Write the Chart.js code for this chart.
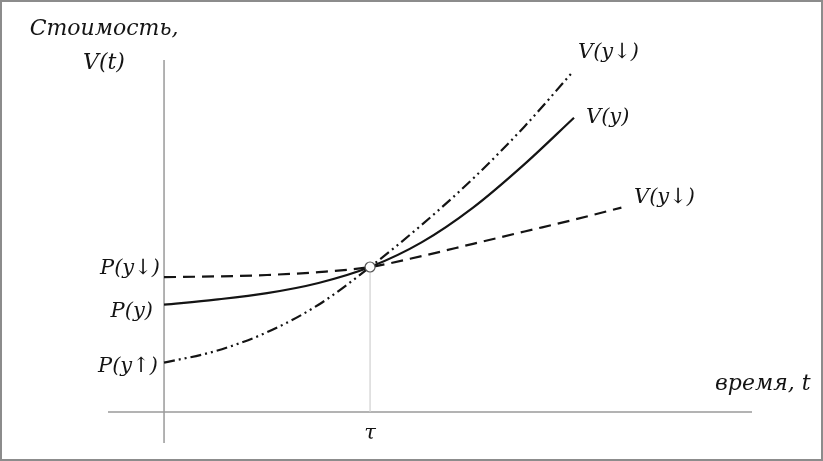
<!DOCTYPE html>
<html>
<head>
<meta charset="utf-8">
<script src="https://cdn.jsdelivr.net/npm/chart.js@4.4.1/dist/chart.umd.min.js"></script>
<style>
html,body{margin:0;padding:0;background:#fff;}
#wrap{width:823px;height:461px;}
</style>
</head>
<body>
<div id="wrap"><canvas id="c" width="823" height="461"></canvas></div>
<script>
// time values (t, where tau = 1) and values V(t) (V(tau) = 1)
const tSolid   = [0, 0.25, 0.5, 0.75, 1, 1.25, 1.5, 1.75, 1.99];
const vSolid   = [0.74, 0.775, 0.82, 0.89, 1, 1.17, 1.41, 1.71, 2.03];
const tDashDot = [0, 0.25, 0.5, 0.75, 1, 1.25, 1.5, 1.75, 1.98];
const vDashDot = [0.34, 0.42, 0.55, 0.74, 1, 1.29, 1.61, 1.97, 2.34];
const tDashed  = [0, 0.25, 0.5, 0.75, 1, 1.25, 1.5, 1.75, 2, 2.22];
const vDashed  = [0.93, 0.935, 0.945, 0.965, 1, 1.075, 1.16, 1.245, 1.33, 1.41];
const tauPoint = [1];
const tauValue = [1];

const seriesLabels = ['V(y)', 'V(y↓)', 'V(y↓)'];
const pLabels = ['P(y↓)', 'P(y)', 'P(y↑)'];
const yTitle = ['Стоимость,', 'V(t)'];
const xTitle = 'время, t';
const tauLabel = 'τ';

const pts = (ts, vs) => ts.map((t, i) => ({x: t, y: vs[i]}));

const FONT = 'italic 21px "DejaVu Serif", "Liberation Serif", serif';
const TFONT = 'italic 22px "DejaVu Serif", "Liberation Serif", serif';
const INK = '#141414';

const decor = {
  id: 'decor',
  beforeDatasetsDraw(chart) {
    const {ctx, chartArea, scales} = chart;
    const xs = scales.x, ys = scales.y;
    ctx.save();
    ctx.strokeStyle = '#8c8c8c';
    ctx.lineWidth = 2;
    ctx.strokeRect(1, 1, 821, 459);
    ctx.strokeStyle = '#9a9a9a';
    ctx.lineWidth = 1.5;
    ctx.beginPath();
    const x0 = xs.getPixelForValue(0);
    ctx.moveTo(x0, chartArea.top);
    ctx.lineTo(x0, chartArea.bottom);
    const y0 = ys.getPixelForValue(0);
    ctx.moveTo(chartArea.left, y0);
    ctx.lineTo(chartArea.right, y0);
    ctx.stroke();
    ctx.strokeStyle = '#cfcfcf';
    ctx.lineWidth = 1.2;
    ctx.beginPath();
    const xt = xs.getPixelForValue(tauPoint[0]);
    ctx.moveTo(xt, ys.getPixelForValue(tauValue[0]));
    ctx.lineTo(xt, y0);
    ctx.stroke();
    ctx.restore();
  },
  afterDatasetsDraw(chart) {
    const {ctx, scales} = chart;
    const xs = scales.x;
    ctx.save();
    ctx.fillStyle = INK;
    ctx.textBaseline = 'middle';
    ctx.font = TFONT;
    ctx.textAlign = 'center';
    ctx.fillText(yTitle[0], 104, 29);
    ctx.fillText(yTitle[1], 104, 63);
    ctx.textAlign = 'left';
    ctx.fillText(xTitle, 715, 384);
    ctx.font = FONT;
    ctx.textAlign = 'center';
    ctx.fillText(tauLabel, xs.getPixelForValue(tauPoint[0]), 434);
    ctx.textAlign = 'left';
    ctx.fillText(seriesLabels[1], 578, 53);
    ctx.fillText(seriesLabels[0], 586, 118);
    ctx.fillText(seriesLabels[2], 634, 198);
    ctx.textAlign = 'right';
    ctx.fillText(pLabels[0], 160, 269);
    ctx.fillText(pLabels[1], 153, 312);
    ctx.fillText(pLabels[2], 158, 367);
    ctx.restore();
  }
};

new Chart(document.getElementById('c'), {
  type: 'line',
  data: {
    datasets: [
      {label: 'tau', data: pts(tauPoint, tauValue), showLine: false, pointRadius: 5,
       pointBackgroundColor: '#fff', pointBorderColor: '#555', pointBorderWidth: 1.2, order: 0},
      {label: seriesLabels[0], data: pts(tSolid, vSolid), borderColor: INK, borderWidth: 2.2,
       pointRadius: 0, cubicInterpolationMode: 'monotone', order: 1},
      {label: seriesLabels[1], data: pts(tDashDot, vDashDot), borderColor: INK, borderWidth: 2.2,
       borderDash: [11, 4, 2, 4, 2, 4], pointRadius: 0, cubicInterpolationMode: 'monotone', order: 1},
      {label: seriesLabels[2], data: pts(tDashed, vDashed), borderColor: INK, borderWidth: 2.2,
       borderDash: [12, 7], pointRadius: 0, cubicInterpolationMode: 'monotone', order: 1}
    ]
  },
  options: {
    responsive: false,
    animation: false,
    events: [],
    layout: {padding: {left: 108, right: 71, top: 60, bottom: 18}},
    scales: {
      x: {type: 'linear', min: -0.272, max: 2.854, display: false},
      y: {type: 'linear', min: -0.214, max: 2.428, display: false}
    },
    plugins: {legend: {display: false}, tooltip: {enabled: false}}
  },
  plugins: [decor]
});
</script>
</body>
</html>
